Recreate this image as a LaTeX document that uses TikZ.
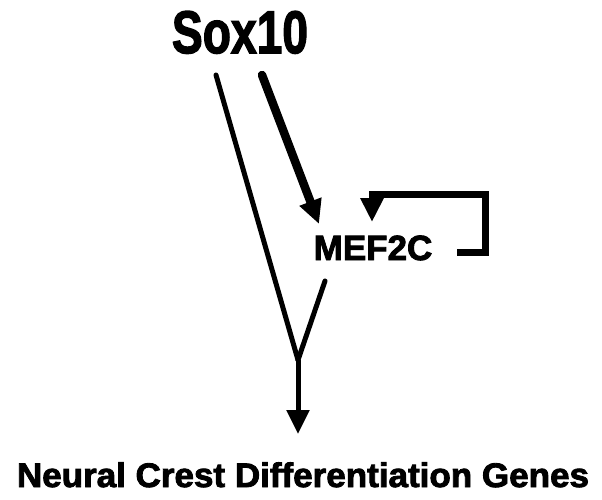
\documentclass[tikz,border=0pt]{standalone}
\usepackage{fontspec}
\setmainfont{Liberation Sans}
\newfontfamily\heavy{Liberation Sans Bold}[FakeBold=2.5]
\usetikzlibrary{arrows.meta}
\begin{document}
\begin{tikzpicture}[x=1pt,y=-1pt,
  lbl/.style={inner sep=0pt, anchor=base},
  thin/.style={line width=5pt, line cap=round},
  thick/.style={line width=8.5pt},
  tip/.style={-{Triangle[length=24pt,width=22pt]}}]
\useasboundingbox (0,0) rectangle (602,500);
\node[lbl, xscale=0.77, font=\heavy\fontsize{60}{60}\selectfont] (sox) at (240,53) {Sox10};
\node[lbl, xscale=1.0, font=\heavy\fontsize{35}{35}\selectfont] (mef) at (373,260) {MEF2C};
\node[lbl, xscale=1.03, font=\heavy\fontsize{34}{34}\selectfont] (genes) at (303,487) {Neural Crest Differentiation Genes};
\coordinate (s1) at (216,75);
\coordinate (s2) at (262,75);
\coordinate (m1) at (325,281);
\coordinate (j) at (298,360);
\coordinate (g) at (298,434);
\coordinate (mr) at (457,252);
\coordinate (mt) at (372,222);
\draw[thin] (s1) -- (j);
\draw[thin] (m1) -- (j);
\draw[line width=5pt, tip] (j) -- (g);
\draw[thick, line cap=round, tip] (s2) -- (319,224);
\draw[line width=7pt, tip] (mr) -- (485,252) -- (485,194) -- (372,194) -- (mt);
\end{tikzpicture}
\end{document}
